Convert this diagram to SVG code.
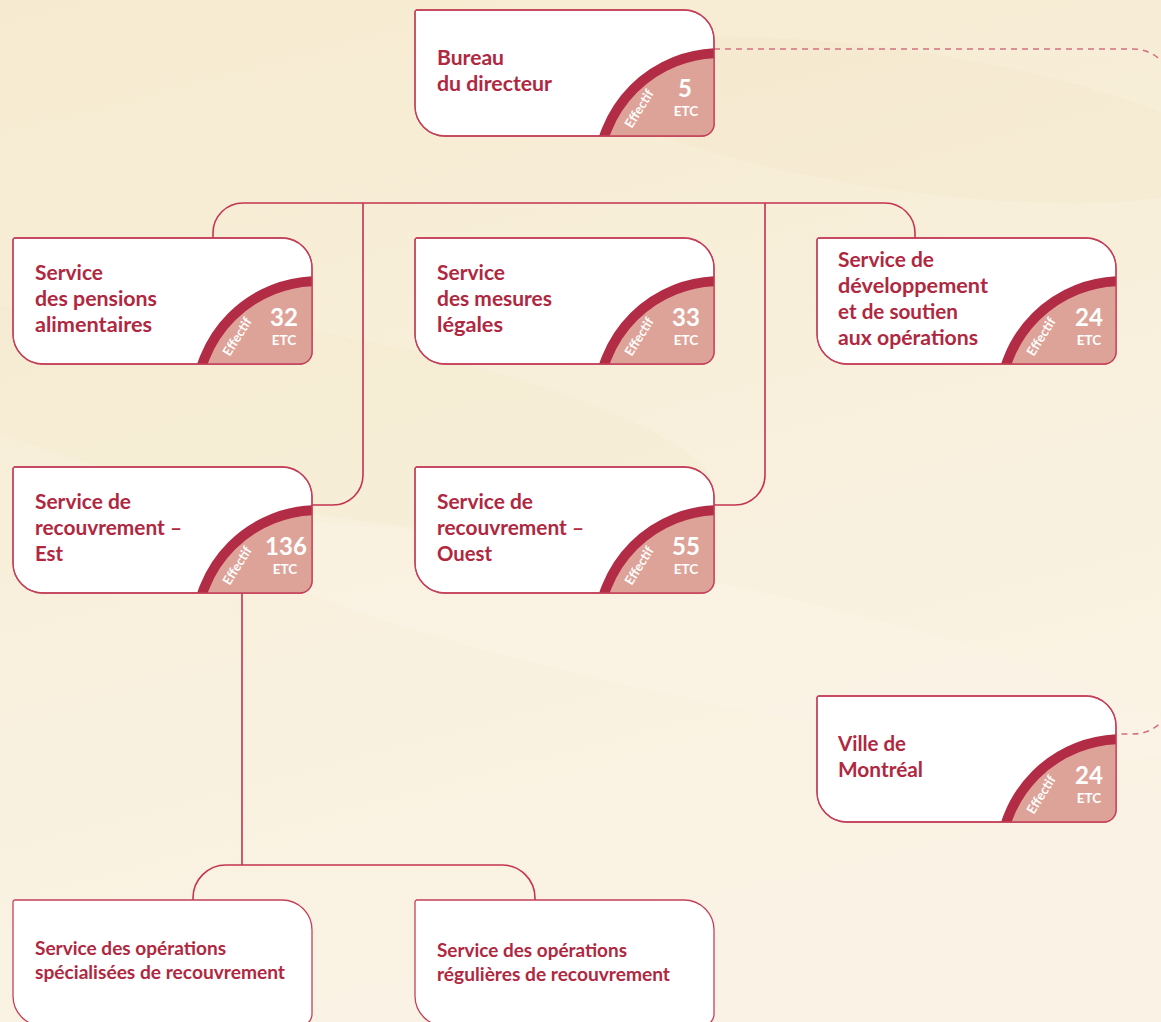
<svg xmlns="http://www.w3.org/2000/svg" xmlns:xlink="http://www.w3.org/1999/xlink" width="1161" height="1022" viewBox="0 0 1161 1022">
<defs>
<linearGradient id="bg" x1="0" y1="0" x2="0.3" y2="1">
<stop offset="0" stop-color="#f6ebd0"/>
<stop offset="0.45" stop-color="#f8efda"/>
<stop offset="1" stop-color="#faf3e5"/>
</linearGradient>
<path id="box" d="M2,0 H269 A30,30 0 0 1 299,30 V114 A12,12 0 0 1 287,126 H30 A30,30 0 0 1 0,96 V2 A2,2 0 0 1 2,0 Z"/>
<clipPath id="clip"><use xlink:href="#box"/></clipPath>
<style>
.bx{fill:#ffffff;stroke:#c4405a;stroke-width:1.3}
.bo{fill:none;stroke:#c4405a;stroke-width:1.3}
.arc{fill:#dea398;stroke:#b22c45;stroke-width:10}
.t{font-family:Lato,"Liberation Sans",sans-serif;font-weight:bold;font-size:21px;fill:#b0283f}
.ts{font-family:Lato,"Liberation Sans",sans-serif;font-weight:bold;font-size:19px;fill:#b0283f}
.num{font-family:Lato,"Liberation Sans",sans-serif;font-weight:bold;font-size:24px;fill:#ffffff;text-anchor:middle}
.etc{font-family:Lato,"Liberation Sans",sans-serif;font-weight:bold;font-size:13.5px;fill:#ffffff;text-anchor:middle}
.eff{font-family:Lato,"Liberation Sans",sans-serif;font-weight:bold;font-size:13px;fill:#ffffff;text-anchor:middle}
.con{fill:none;stroke:#c43350;stroke-width:1.6}
.dash{fill:none;stroke:#d27080;stroke-width:1.6;stroke-dasharray:6 5}
</style>
<g id="badge">
<g clip-path="url(#clip)"><circle class="arc" cx="305" cy="165" r="122"/></g>
<text class="eff" transform="translate(228,101) rotate(-58)">Effectif</text>
</g>
</defs>
<rect width="1161" height="1022" fill="url(#bg)"/>
<ellipse cx="300" cy="420" rx="420" ry="90" fill="#f1e4c2" opacity="0.2" transform="rotate(10 300 420)"/>
<ellipse cx="900" cy="120" rx="330" ry="70" fill="#f0e2bd" opacity="0.2" transform="rotate(8 900 120)"/>
<ellipse cx="700" cy="640" rx="500" ry="60" fill="#fbf6ea" opacity="0.3" transform="rotate(12 700 640)"/>

<g id="connectors">
<path class="con" d="M213,238 V233 A30,30 0 0 1 243,203 H885 A30,30 0 0 1 915,233 V238"/>
<path class="con" d="M363,203 V475 A30,30 0 0 1 333,505 H312"/>
<path class="con" d="M765,203 V475 A30,30 0 0 1 735,505 H714"/>
<path class="con" d="M242,593 V865"/>
<path class="con" d="M193,900 V898 A33,33 0 0 1 226,865 H502 A33,33 0 0 1 535,898 V900"/>
<path class="dash" d="M714,49 H1133 A40,40 0 0 1 1173,89 V694 A40,40 0 0 1 1133,734 H1115"/>
</g>

<g id="n-bureau" transform="translate(415,10)">
<use xlink:href="#box" class="bx"/>
<use xlink:href="#badge"/>
<use xlink:href="#box" class="bo"/>
<text class="t" x="22" y="55" textLength="67" lengthAdjust="spacingAndGlyphs">Bureau</text>
<text class="t" x="22" y="81" textLength="115" lengthAdjust="spacingAndGlyphs">du directeur</text>
<text class="num" x="270" y="87">5</text>
<text class="etc" x="271" y="106">ETC</text>
</g>

<g id="n-pensions" transform="translate(13,238)">
<use xlink:href="#box" class="bx"/>
<use xlink:href="#badge"/>
<use xlink:href="#box" class="bo"/>
<text class="t" x="22" y="42" textLength="68" lengthAdjust="spacingAndGlyphs">Service</text>
<text class="t" x="22" y="68" textLength="122" lengthAdjust="spacingAndGlyphs">des pensions</text>
<text class="t" x="22" y="94" textLength="117" lengthAdjust="spacingAndGlyphs">alimentaires</text>
<text class="num" x="271" y="88">32</text>
<text class="etc" x="271" y="107">ETC</text>
</g>

<g id="n-mesures" transform="translate(415,238)">
<use xlink:href="#box" class="bx"/>
<use xlink:href="#badge"/>
<use xlink:href="#box" class="bo"/>
<text class="t" x="22" y="42" textLength="68" lengthAdjust="spacingAndGlyphs">Service</text>
<text class="t" x="22" y="68" textLength="115" lengthAdjust="spacingAndGlyphs">des mesures</text>
<text class="t" x="22" y="94" textLength="66" lengthAdjust="spacingAndGlyphs">légales</text>
<text class="num" x="271" y="88">33</text>
<text class="etc" x="271" y="107">ETC</text>
</g>

<g id="n-developpement" transform="translate(817,238)">
<use xlink:href="#box" class="bx"/>
<use xlink:href="#badge"/>
<use xlink:href="#box" class="bo"/>
<text class="t" x="21" y="29" textLength="96" lengthAdjust="spacingAndGlyphs">Service de</text>
<text class="t" x="21" y="55" textLength="150" lengthAdjust="spacingAndGlyphs">développement</text>
<text class="t" x="21" y="81" textLength="120" lengthAdjust="spacingAndGlyphs">et de soutien</text>
<text class="t" x="21" y="107" textLength="140" lengthAdjust="spacingAndGlyphs">aux opérations</text>
<text class="num" x="272" y="88">24</text>
<text class="etc" x="272" y="107">ETC</text>
</g>

<g id="n-est" transform="translate(13,467)">
<use xlink:href="#box" class="bx"/>
<use xlink:href="#badge"/>
<use xlink:href="#box" class="bo"/>
<text class="t" x="22" y="42" textLength="96" lengthAdjust="spacingAndGlyphs">Service de</text>
<text class="t" x="22" y="68" textLength="147" lengthAdjust="spacingAndGlyphs">recouvrement –</text>
<text class="t" x="22" y="94" textLength="28" lengthAdjust="spacingAndGlyphs">Est</text>
<text class="num" x="273" y="88">136</text>
<text class="etc" x="272" y="107">ETC</text>
</g>

<g id="n-ouest" transform="translate(415,467)">
<use xlink:href="#box" class="bx"/>
<use xlink:href="#badge"/>
<use xlink:href="#box" class="bo"/>
<text class="t" x="22" y="42" textLength="96" lengthAdjust="spacingAndGlyphs">Service de</text>
<text class="t" x="22" y="68" textLength="147" lengthAdjust="spacingAndGlyphs">recouvrement –</text>
<text class="t" x="22" y="94" textLength="55" lengthAdjust="spacingAndGlyphs">Ouest</text>
<text class="num" x="271" y="88">55</text>
<text class="etc" x="271" y="107">ETC</text>
</g>

<g id="n-ville" transform="translate(817,696)">
<use xlink:href="#box" class="bx"/>
<use xlink:href="#badge"/>
<use xlink:href="#box" class="bo"/>
<text class="t" x="21" y="55" textLength="68" lengthAdjust="spacingAndGlyphs">Ville de</text>
<text class="t" x="21" y="81" textLength="85" lengthAdjust="spacingAndGlyphs">Montréal</text>
<text class="num" x="272" y="88">24</text>
<text class="etc" x="272" y="107">ETC</text>
</g>

<g id="n-specialisees" transform="translate(13,900)">
<use xlink:href="#box" class="bx"/>
<text class="ts" x="22" y="55" textLength="191" lengthAdjust="spacingAndGlyphs">Service des opérations</text>
<text class="ts" x="22" y="79" textLength="250" lengthAdjust="spacingAndGlyphs">spécialisées de recouvrement</text>
</g>

<g id="n-regulieres" transform="translate(415,900)">
<use xlink:href="#box" class="bx"/>
<text class="ts" x="22" y="57" textLength="190" lengthAdjust="spacingAndGlyphs">Service des opérations</text>
<text class="ts" x="22" y="81" textLength="233" lengthAdjust="spacingAndGlyphs">régulières de recouvrement</text>
</g>
</svg>
